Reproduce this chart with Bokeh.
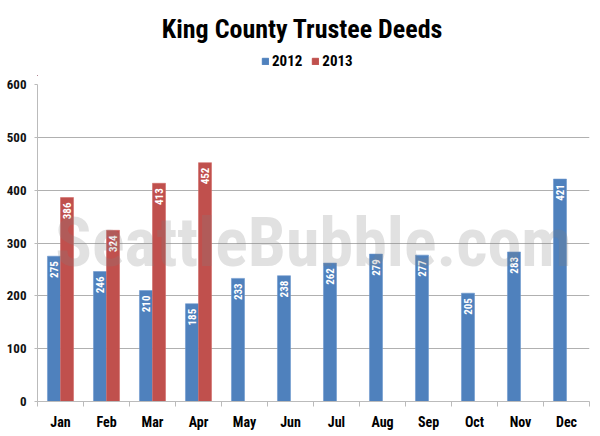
from math import pi
from bokeh.plotting import figure
from bokeh.layouts import column
from bokeh.models import (ColumnDataSource, FixedTicker, Legend, LegendItem, Label, Range1d)
from bokeh.embed import file_html
from bokeh.resources import INLINE
from bokeh.core.properties import value
from bokeh.transform import dodge

months = ["Jan", "Feb", "Mar", "Apr", "May", "Jun", "Jul", "Aug", "Sep", "Oct", "Nov", "Dec"]
deeds_2012 = [275, 246, 210, 185, 233, 238, 262, 279, 277, 205, 283, 421]
deeds_2013 = [386, 324, 413, 452]
y_ticks = [0, 100, 200, 300, 400, 500, 600]
series_names = ["2012", "2013"]
title_text = "King County Trustee Deeds"
watermark_text = "SeattleBubble.com"

BLUE = "#4F81BD"
RED = "#C0504D"
FONT = "Roboto Condensed"
BAR_W = 0.283
HEADER_H = 76

# ---------------- header: title + legend ----------------
hdr = figure(width=600, height=HEADER_H, output_backend="svg", toolbar_location=None,
             x_range=Range1d(0, 600), y_range=Range1d(0, HEADER_H),
             min_border=0, background_fill_color="white", border_fill_color="white")
hdr.axis.visible = False
hdr.grid.visible = False
hdr.outline_line_color = None

hdr.add_layout(Label(x=288, y=HEADER_H - 28, text=title_text, text_align="center",
                     text_baseline="middle", text_font=FONT, text_font_size="26px",
                     text_font_style="bold", text_color="#000000"))

# off-view swatch renderers that only feed the legend
swatch = dict(x=[-100], top=[1])
h12 = hdr.vbar(x="x", top="top", width=1, source=ColumnDataSource(swatch),
               fill_color=BLUE, line_color=BLUE)
h13 = hdr.vbar(x="x", top="top", width=1, source=ColumnDataSource(swatch),
               fill_color=RED, line_color=RED)
legend = Legend(items=[LegendItem(label=series_names[0], renderers=[h12]),
                       LegendItem(label=series_names[1], renderers=[h13])],
                orientation="horizontal", location=(224, HEADER_H - 60 - 10),
                label_text_font=FONT, label_text_font_size="15px", label_text_font_style="bold",
                label_text_color="#000000", label_standoff=3, label_height=16, label_width=10,
                glyph_width=8, glyph_height=8, spacing=9,
                border_line_color=None, background_fill_alpha=0, padding=0, margin=0)
hdr.add_layout(legend)

# ---------------- main chart ----------------
pos12 = [i + 0.5 for i in range(len(months))]
pos13 = [i + 0.5 for i in range(len(deeds_2013))]
src12 = ColumnDataSource(dict(x=pos12, top=deeds_2012, lab=[str(v) for v in deeds_2012]))
src13 = ColumnDataSource(dict(x=pos13, top=deeds_2013, lab=[str(v) for v in deeds_2013]))

p = figure(width=600, height=436 - HEADER_H, output_backend="svg", toolbar_location=None,
           x_range=Range1d(0, len(months)), y_range=Range1d(0, 600),
           min_border_left=37, min_border_right=11, min_border_bottom=35, min_border_top=8,
           background_fill_color="white", border_fill_color="white")
p.outline_line_color = None

p.vbar(x=dodge("x", -BAR_W / 2), top="top", width=BAR_W, bottom=0, source=src12,
       fill_color=BLUE, line_color="#6b97cc", line_width=0.6)
p.vbar(x=dodge("x", BAR_W / 2), top="top", width=BAR_W, bottom=0, source=src13,
       fill_color=RED, line_color="#d06a67", line_width=0.6)

for src, off in ((src12, -BAR_W / 2), (src13, BAR_W / 2)):
    p.text(x=dodge("x", off), y="top", text="lab", source=src, angle=pi / 2,
           text_align="right", text_baseline="middle", x_offset=0, y_offset=5,
           text_color="white", text_font=value(FONT), text_font_size="11px",
           text_font_style="bold")

# Watermark (kept inside the plot frame)
p.add_layout(Label(x=6.0, y=300, text=watermark_text, text_align="center",
                   text_baseline="alphabetic", text_font=FONT, text_font_size="68px",
                   text_font_style="bold", text_color="#808080", text_alpha=0.24))

# Axes
xa = p.xaxis[0]
xa.ticker = FixedTicker(ticks=pos12, minor_ticks=list(range(len(months) + 1)))
xa.major_label_overrides = {x: m for x, m in zip(pos12, months)}
xa.major_tick_in = 0
xa.major_tick_out = 0
xa.minor_tick_in = 0
xa.minor_tick_out = 5
xa.minor_tick_line_color = "#bbbbbb"
xa.axis_line_color = "#bbbbbb"
xa.major_label_text_font = FONT
xa.major_label_text_font_size = "14px"
xa.major_label_text_font_style = "bold"
xa.major_label_text_color = "#000000"
xa.major_label_standoff = 7

ya = p.yaxis[0]
ya.ticker = FixedTicker(ticks=y_ticks)
ya.major_tick_in = 0
ya.major_tick_out = 3
ya.minor_tick_line_color = None
ya.major_tick_line_color = "#bbbbbb"
ya.axis_line_color = "#bbbbbb"
ya.major_label_text_font = FONT
ya.major_label_text_font_size = "13px"
ya.major_label_text_font_style = "bold"
ya.major_label_text_color = "#111111"
ya.major_label_standoff = 8

p.xgrid.grid_line_color = None
p.ygrid.grid_line_color = "#b0b0b0"
p.ygrid.grid_line_width = 1

layout = column(hdr, p, spacing=0)
open("out.html", "w").write(file_html(layout, INLINE))
